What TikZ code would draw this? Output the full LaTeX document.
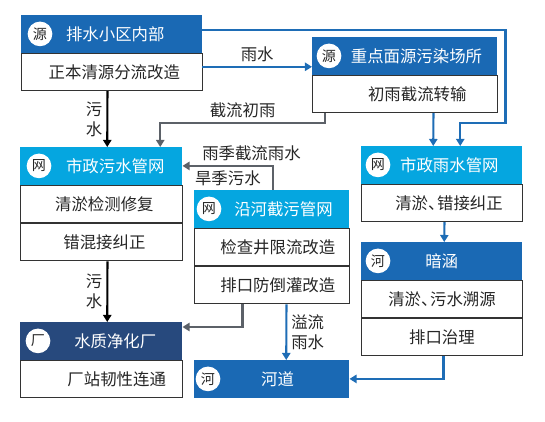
\documentclass[tikz,border=0pt]{standalone}
\usepackage{fontspec}
\setmainfont{Noto Sans CJK SC}
\usetikzlibrary{calc,arrows.meta}

\definecolor{hdrblue}{HTML}{1A69B4}
\definecolor{hdrcyan}{HTML}{05A6E0}
\definecolor{hdrnavy}{HTML}{27497D}
\definecolor{lineblue}{HTML}{1E6DB6}
\definecolor{linegray}{HTML}{5C6168}

\newcommand{\dun}{、\kern-0.45em}

\tikzset{
    hdr/.style={anchor=north west, inner sep=0pt, minimum height=1.12cm,
        text=white, font=\fontsize{14}{16}\selectfont},
    bodybox/.style={anchor=north west, inner sep=0pt, minimum height=1.12cm,
        draw=black!80, line width=0.8pt, fill=white, text=black!85,
        font=\fontsize{14}{16}\selectfont},
    off/.style={execute at begin node={\hspace*{#1}}},
    badge/.style={circle, fill=white, minimum size=0.74cm, inner sep=0pt,
        text=black!85, font=\fontsize{12}{12}\selectfont},
    lbl/.style={text=black!85, align=center, font=\fontsize{14}{17}\selectfont},
    bluearr/.style={draw=lineblue, line width=1.8pt, -{Triangle[width=7pt,length=6pt]}},
    grayarr/.style={draw=linegray, line width=1.8pt, -{Triangle[width=7pt,length=6pt]}},
    blackarr/.style={draw=black, line width=1.8pt, -{Triangle[width=7pt,length=6pt]}},
}

\begin{document}
\begin{tikzpicture}[x=0.03cm, y=-0.03cm]
    \useasboundingbox (0,0) rectangle (545,421);

    % source: drainage communities
    \node[hdr, fill=hdrblue, minimum width=5.43cm, off=6pt] (yuan1) at (21,15) {排水小区内部};
    \node[badge] (yuan1c) at ($(yuan1.west)+(19,0)$) {源};
    \node[bodybox, minimum width=5.43cm, off=4pt] (yuan1b) at (yuan1.south west) {正本清源分流改造};

    % source: key non-point pollution sites
    \node[hdr, fill=hdrblue, minimum width=5.55cm, off=20pt] (yuan2) at (312,37) {重点面源污染场所};
    \node[badge] (yuan2c) at ($(yuan2.west)+(17,0)$) {源};
    \node[bodybox, minimum width=5.55cm, off=21pt] (yuan2b) at (yuan2.south west) {初雨截流转输};

    % municipal sewage network
    \node[hdr, fill=hdrcyan, minimum width=4.86cm, off=24pt] (wuwang) at (20,147) {市政污水管网};
    \node[badge] (wuwangc) at ($(wuwang.west)+(19,0)$) {网};
    \node[bodybox, minimum width=4.86cm, off=5pt] (wuwang1) at (wuwang.south west) {清淤检测修复};
    \node[bodybox, minimum width=4.86cm, off=5pt] (wuwang2) at (wuwang1.south west) {错混接纠正};

    % riverside interception network
    \node[hdr, fill=hdrcyan, minimum width=4.65cm, off=20pt] (yanhe) at (194,190) {沿河截污管网};
    \node[badge] (yanhec) at ($(yanhe.west)+(15,0)$) {网};
    \node[bodybox, minimum width=4.65cm, off=10pt] (yanhe1) at (yanhe.south west) {检查井限流改造};
    \node[bodybox, minimum width=4.65cm, off=10pt] (yanhe2) at (yanhe1.south west) {排口防倒灌改造};

    % municipal rainwater network
    \node[hdr, fill=hdrcyan, minimum width=4.83cm, off=13pt] (yuwang) at (361,146) {市政雨水管网};
    \node[badge] (yuwangc) at ($(yuwang.west)+(17,0)$) {网};
    \node[bodybox, minimum width=4.83cm, off=12pt] (yuwang1) at (yuwang.south west) {清淤\dun 错接纠正};

    % culvert
    \node[hdr, fill=hdrblue, minimum width=4.83cm] (anhan) at (361,242) {暗涵};
    \node[badge] (anhanc) at ($(anhan.west)+(17,0)$) {河};
    \node[bodybox, minimum width=4.83cm] (anhan1) at (anhan.south west) {清淤\dun 污水溯源};
    \node[bodybox, minimum width=4.83cm] (anhan2) at (anhan1.south west) {排口治理};

    % treatment plant
    \node[hdr, fill=hdrnavy, minimum width=4.86cm, off=24pt] (chang) at (20,322) {水质净化厂};
    \node[badge] (changc) at ($(chang.west)+(18,0)$) {厂};
    \node[bodybox, minimum width=4.86cm, off=26pt] (chang1) at (chang.south west) {厂站韧性连通};

    % river
    \node[hdr, fill=hdrblue, minimum width=4.65cm, off=10pt] (hedao) at (194,360) {河道};
    \node[badge] (hedaoc) at ($(hedao.west)+(14,0)$) {河};

    % rainwater
    \coordinate (ry) at ($(yuan1.south east)+(0,14)$);
    \draw[bluearr] ($(yuan1.north east)+(0,15)$) -| ($(yuwang.north east)+(-17,-23)$) -| ($(yuwang.north)+(18.5,0)$);
    \draw[bluearr] (ry) -- (ry -| yuan2.west) node[lbl, midway, above] {雨水};
    \draw[bluearr] ($(yuan2b.south)+(28.5,0)$) -- ($(yuwang.north)+(-8.5,0)$);
    \draw[grayarr] ($(yuan2b.south west)+(13,0)$) |- ($(wuwang.north)+(59,-24)$)
        node[lbl, pos=0.75, above] {截流初雨} -- ($(wuwang.north)+(59,0)$);

    % sewage
    \draw[blackarr] ($(yuan1b.south)+(-4.5,0)$) -- ($(wuwang.north)+(6,0)$) node[lbl, midway, left] {污\\水};
    \draw[grayarr] ($(yanhe.north)+(1.5,0)$) |- (wuwang.east)
        node[lbl, pos=0.62, above] {雨季截流雨水}
        node[lbl, pos=0.75, below] {旱季污水};
    \draw[blackarr] ($(wuwang2.south)+(6,0)$) -- ($(chang.north)+(6,0)$) node[lbl, midway, left] {污\\水};
    \draw[grayarr] ($(yanhe2.south)+(-29.5,0)$) |- ($(chang.north east)+(0,5)$);
    \draw[bluearr] ($(yanhe2.south)+(14.5,0)$) -- ($(hedao.north)+(14.5,0)$) node[lbl, midway, right] {溢流\\雨水};

    \draw[bluearr] ($(yuwang1.south)+(2.5,0)$) -- ($(anhan.north)+(2.5,0)$);
    \draw[bluearr] ($(anhan2.south)+(1.5,0)$) |- (hedao.east);
\end{tikzpicture}
\end{document}
